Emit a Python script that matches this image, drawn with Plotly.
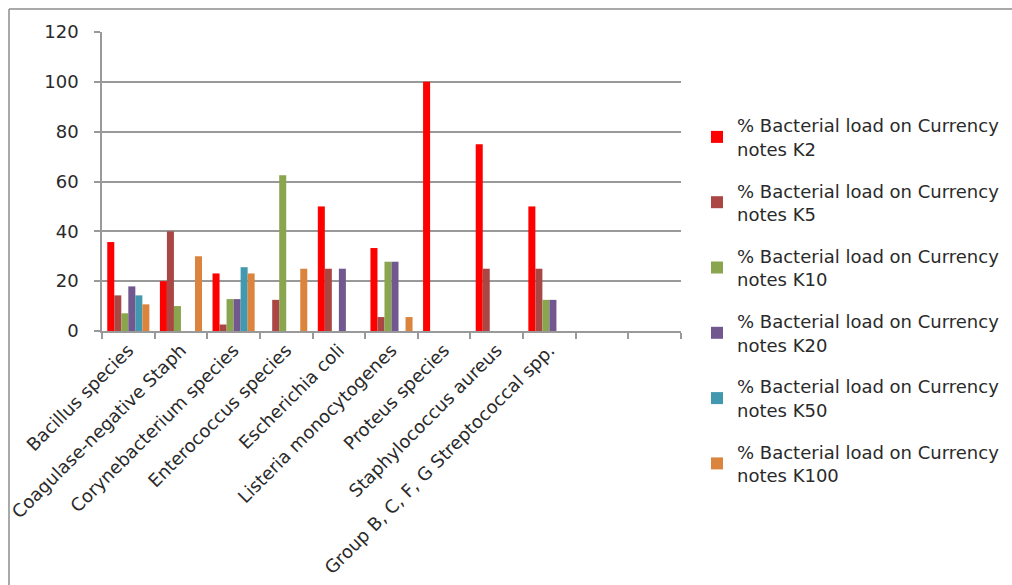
import plotly.graph_objects as go

categories = ["Bacillus species", "Coagulase-negative Staph", "Corynebacterium species",
              "Enterococcus species", "Escherichia coli", "Listeria monocytogenes",
              "Proteus species", "Staphylococcus aureus", "Group B, C, F, G Streptococcal spp.",
              " ", "  "]

series_names = ["% Bacterial load on Currency<br>notes K2",
                "% Bacterial load on Currency<br>notes K5",
                "% Bacterial load on Currency<br>notes K10",
                "% Bacterial load on Currency<br>notes K20",
                "% Bacterial load on Currency<br>notes K50",
                "% Bacterial load on Currency<br>notes K100"]

k2 = [35.7, 20.0, 23.1, 0, 50.0, 33.3, 100.0, 75.0, 50.0]
k5 = [14.3, 40.0, 2.6, 12.5, 25.0, 5.6, 0, 25.0, 25.0]
k10 = [7.1, 10.0, 12.8, 62.5, 0, 27.8, 0, 0, 12.5]
k20 = [17.9, 0, 12.8, 0, 25.0, 27.8, 0, 0, 12.5]
k50 = [14.3, 0, 25.6, 0, 0, 0, 0, 0, 0]
k100 = [10.7, 30.0, 23.1, 25.0, 0, 5.6, 0, 0, 0]

colors = ["#FF0000", "#AA4643", "#89A54E", "#71588F", "#4198AF", "#DB843D"]
series = [k2, k5, k10, k20, k50, k100]

W, H = 1012, 585
L, R, T, B = 102, 681, 32, 331

fig = go.Figure()
for name, vals, col in zip(series_names, series, colors):
    fig.add_trace(go.Bar(x=categories[:len(vals)], y=vals, name=name,
                         marker=dict(color=col, line=dict(width=0)),
                         legendgroup=name))

font = dict(family="DejaVu Sans", size=18, color="#2a2a2a")

fx0 = (9 - L) / (R - L)
fy1 = (B - 9) / (B - T)
frame = dict(color="#8c8c8c", width=1.5)

fig.update_layout(
    width=W, height=H,
    margin=dict(l=L, r=W - R, t=T, b=H - B, pad=0, autoexpand=False),
    paper_bgcolor="white", plot_bgcolor="white",
    barmode="group", bargap=0.2, bargroupgap=0,
    font=font,
    showlegend=True,
    legend=dict(x=(697 - L) / (R - L), y=(H - 107) / H, xref="paper", yref="container",
                xanchor="left", yanchor="top", maxheight=450,
                font=font, tracegroupgap=15.5, itemwidth=30,
                bgcolor="rgba(0,0,0,0)"),
    xaxis=dict(type="category", categoryorder="array", categoryarray=categories,
               range=[-0.5, len(categories) - 0.5],
               tickangle=-45, ticks="outside", tickson="boundaries", ticklen=6,
               tickcolor="#999999", tickwidth=1.5,
               showline=True, linecolor="#999999", linewidth=1.5,
               showgrid=False, tickfont=font, fixedrange=True, ticklabelstandoff=0,
               automargin=False),
    yaxis=dict(range=[0, 120], tickvals=[0, 20, 40, 60, 80, 100, 120],
               ticks="outside", ticklen=6, tickcolor="#999999", tickwidth=1.5,
               showline=True, linecolor="#999999", linewidth=1.5,
               showgrid=True, gridcolor="#999999", gridwidth=1.5,
               zeroline=False, tickfont=font, ticklabelstandoff=12, automargin=False),
    shapes=[dict(type="line", xref="paper", yref="paper",
                 x0=fx0, x1=fx0, y0=-3.0, y1=fy1, line=frame, layer="below"),
            dict(type="line", xref="paper", yref="paper",
                 x0=fx0, x1=3.0, y0=fy1, y1=fy1, line=frame, layer="below")],
)

fig.write_html("out.html", config={"displayModeBar": False},
               post_script="document.body.style.margin='0';document.body.style.overflow='hidden';")
